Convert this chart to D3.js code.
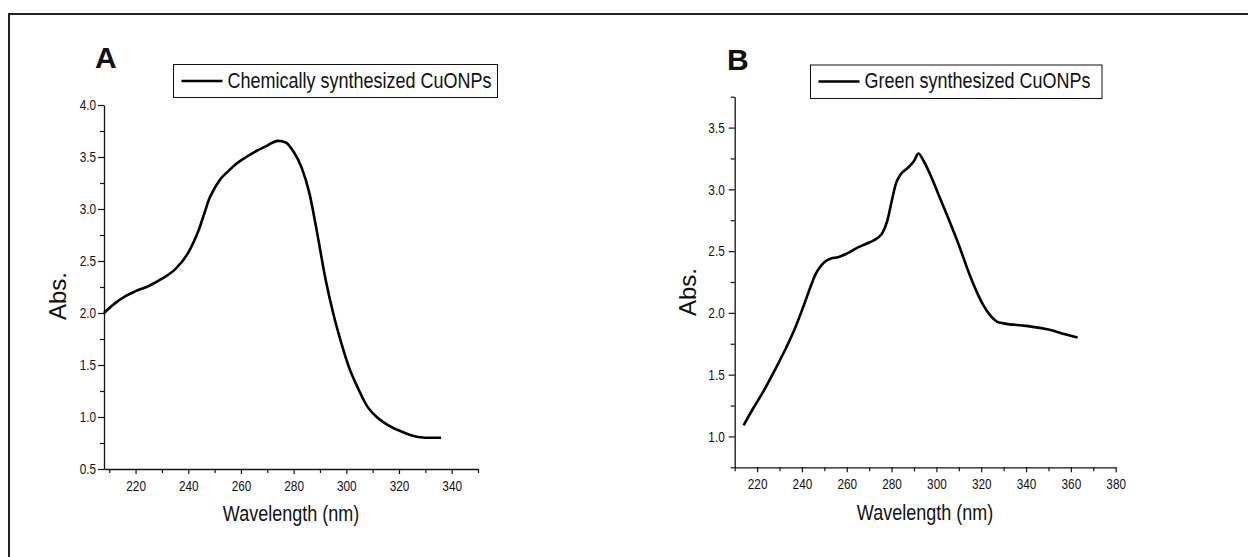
<!DOCTYPE html>
<html>
<head>
<meta charset="utf-8">
<script src="https://cdn.jsdelivr.net/npm/d3@7"></script>
<style>
  body { margin: 0; background: #fff; }
  svg { display: block; }
  text { font-family: "Liberation Sans", Arial, sans-serif; fill: #111; }
  .domain { stroke: #111; stroke-width: 1.3; }
  .tick line { stroke: #111; stroke-width: 1.2; }
</style>
</head>
<body>
<div id="chart"></div>
<script>
var svgWidth = 1248;
var svgHeight = 557;

// panel A: chemically synthesized
var wlA = [208, 212, 216, 220, 225, 230, 235, 240, 242, 244, 246, 248, 250, 252, 255, 258, 262, 266, 270, 274, 277, 280, 283, 286, 289, 292, 295, 298, 301, 304, 308, 312, 316, 320, 324, 328, 332, 336];
var absA = [2.00, 2.09, 2.16, 2.21, 2.26, 2.33, 2.42, 2.58, 2.68, 2.80, 2.95, 3.10, 3.20, 3.28, 3.36, 3.43, 3.50, 3.56, 3.61, 3.655, 3.64, 3.55, 3.40, 3.15, 2.76, 2.34, 2.00, 1.72, 1.48, 1.30, 1.10, 0.99, 0.92, 0.87, 0.83, 0.805, 0.80, 0.80];

// panel B: green synthesized
var wlB = [214, 218, 223, 228, 233, 237, 240, 242, 244, 246, 248, 250, 253, 256, 260, 265, 270, 274, 276, 278, 280, 282, 284, 287, 290, 292, 294, 297, 300, 305, 310, 315, 318, 321, 324, 327, 330, 340, 350, 357, 363];
var absB = [1.09, 1.22, 1.37, 1.54, 1.72, 1.88, 2.02, 2.12, 2.22, 2.31, 2.37, 2.41, 2.44, 2.45, 2.48, 2.53, 2.57, 2.61, 2.65, 2.74, 2.90, 3.05, 3.12, 3.17, 3.23, 3.29, 3.24, 3.13, 3.00, 2.78, 2.55, 2.30, 2.17, 2.06, 1.98, 1.93, 1.915, 1.895, 1.865, 1.83, 1.80];

var xTicksA = [220, 240, 260, 280, 300, 320, 340];
var yTicksA = [0.5, 1.0, 1.5, 2.0, 2.5, 3.0, 3.5, 4.0];
var xTicksB = [220, 240, 260, 280, 300, 320, 340, 360, 380];
var yTicksB = [1.0, 1.5, 2.0, 2.5, 3.0, 3.5];

var stretch = 1.2; // the figure is squeezed sideways, so text looks narrow

var svg = d3.select("#chart")
  .append("svg")
  .attr("width", svgWidth)
  .attr("height", svgHeight);

// outer frame (only top and left edge show in the picture)
svg.append("rect")
  .attr("x", 9)
  .attr("y", 14)
  .attr("width", 1300)
  .attr("height", 600)
  .attr("fill", "none")
  .attr("stroke", "#222")
  .attr("stroke-width", 2);

function drawPanel(opt) {
  var x = d3.scaleLinear().domain(opt.xDomain).range(opt.xRange);
  var y = d3.scaleLinear().domain(opt.yDomain).range(opt.yRange);
  var g = svg.append("g");

  // minor ticks every 10 nm and every 0.25
  var xMinor = d3.range(Math.ceil(opt.xDomain[0] / 10) * 10, opt.xDomain[1] + 0.1, 10)
    .filter(d => opt.xTicks.indexOf(d) < 0);
  g.append("g")
    .attr("transform", `translate(0, ${opt.yRange[0]})`)
    .call(d3.axisBottom(x).tickValues(xMinor).tickSize(4).tickFormat(""))
    .select(".domain").remove();

  var yMinor = d3.range(opt.yDomain[0], opt.yDomain[1] + 0.01, 0.25)
    .filter(d => opt.yTicks.indexOf(+d.toFixed(2)) < 0);
  g.append("g")
    .attr("transform", `translate(${opt.xRange[0]}, 0)`)
    .call(d3.axisLeft(y).tickValues(yMinor).tickSize(4).tickFormat(""))
    .select(".domain").remove();

  // x axis
  var xAxis = g.append("g")
    .attr("transform", `translate(0, ${opt.yRange[0]})`)
    .call(d3.axisBottom(x).tickValues(opt.xTicks).tickSize(5).tickSizeOuter(0).tickFormat(d3.format("d")));
  xAxis.selectAll(".tick text")
    .attr("font-size", 11.8)
    .attr("y", 22 / stretch)
    .attr("dy", 0)
    .attr("transform", `scale(1, ${stretch})`);

  // y axis
  var yAxis = g.append("g")
    .attr("transform", `translate(${opt.xRange[0]}, 0)`)
    .call(d3.axisLeft(y).tickValues(opt.yTicks).tickSize(6).tickSizeOuter(0).tickFormat(d3.format(".1f")));
  yAxis.selectAll(".tick text")
    .attr("font-size", 11.8)
    .attr("x", -opt.yLabelGap)
    .attr("dy", "0.33em")
    .attr("transform", `scale(1, ${stretch})`);

  g.selectAll(".tick text").attr("fill", "#111");

  // curve
  var line = d3.line()
    .x((d, i) => x(opt.wl[i]))
    .y(d => y(d))
    .curve(d3.curveMonotoneX);
  g.append("path")
    .datum(opt.abs)
    .attr("d", line)
    .attr("fill", "none")
    .attr("stroke", "#000")
    .attr("stroke-width", 2.6)
    .attr("stroke-linejoin", "round");

  // axis titles
  g.append("text")
    .attr("transform", `translate(${opt.xTitle[0]}, ${opt.xTitle[1]}) scale(1, 1.22)`)
    .attr("text-anchor", "middle")
    .attr("font-size", 18)
    .text("Wavelength (nm)");

  g.append("text")
    .attr("transform", `translate(${opt.yTitle[0]}, ${opt.yTitle[1]}) rotate(-90)`)
    .attr("text-anchor", "middle")
    .attr("font-size", 24)
    .text("Abs.");

  // panel letter
  g.append("text")
    .attr("x", opt.letterPos[0])
    .attr("y", opt.letterPos[1])
    .attr("font-family", "Lato, 'Open Sans', sans-serif")
    .attr("font-weight", "bold")
    .attr("font-size", 30)
    .text(opt.letter);

  // legend
  var lg = g.append("g");
  lg.append("rect")
    .attr("x", opt.legend[0])
    .attr("y", opt.legend[1])
    .attr("width", opt.legend[2])
    .attr("height", opt.legend[3])
    .attr("fill", "#fff")
    .attr("stroke", "#111")
    .attr("stroke-width", 1);
  lg.append("line")
    .attr("x1", opt.legend[0] + 8)
    .attr("x2", opt.legend[0] + 49)
    .attr("y1", opt.legend[1] + 16.5)
    .attr("y2", opt.legend[1] + 16.5)
    .attr("stroke", "#000")
    .attr("stroke-width", 2.4);
  lg.append("text")
    .attr("transform", `translate(${opt.legend[0] + 54}, ${opt.legend[1] + 23}) scale(1, 1.22)`)
    .attr("font-size", 18)
    .text(opt.name);
}

drawPanel({
  wl: wlA, abs: absA,
  xDomain: [208, 350], xRange: [104, 478],
  yDomain: [0.5, 4.0], yRange: [469, 105],
  xTicks: xTicksA, yTicks: yTicksA, yLabelGap: 8,
  xTitle: [291, 521], yTitle: [66, 296],
  letter: "A", letterPos: [95, 68],
  legend: [173.5, 64.5, 324, 33],
  name: "Chemically synthesized CuONPs"
});

drawPanel({
  wl: wlB, abs: absB,
  xDomain: [210, 380], xRange: [734.7, 1115.7],
  yDomain: [0.75, 3.75], yRange: [467.3, 96.7],
  xTicks: xTicksB, yTicks: yTicksB, yLabelGap: 10,
  xTitle: [925, 520], yTitle: [696, 292],
  letter: "B", letterPos: [727, 70],
  legend: [810.5, 65, 291.5, 33.5],
  name: "Green synthesized CuONPs"
});
</script>
</body>
</html>
